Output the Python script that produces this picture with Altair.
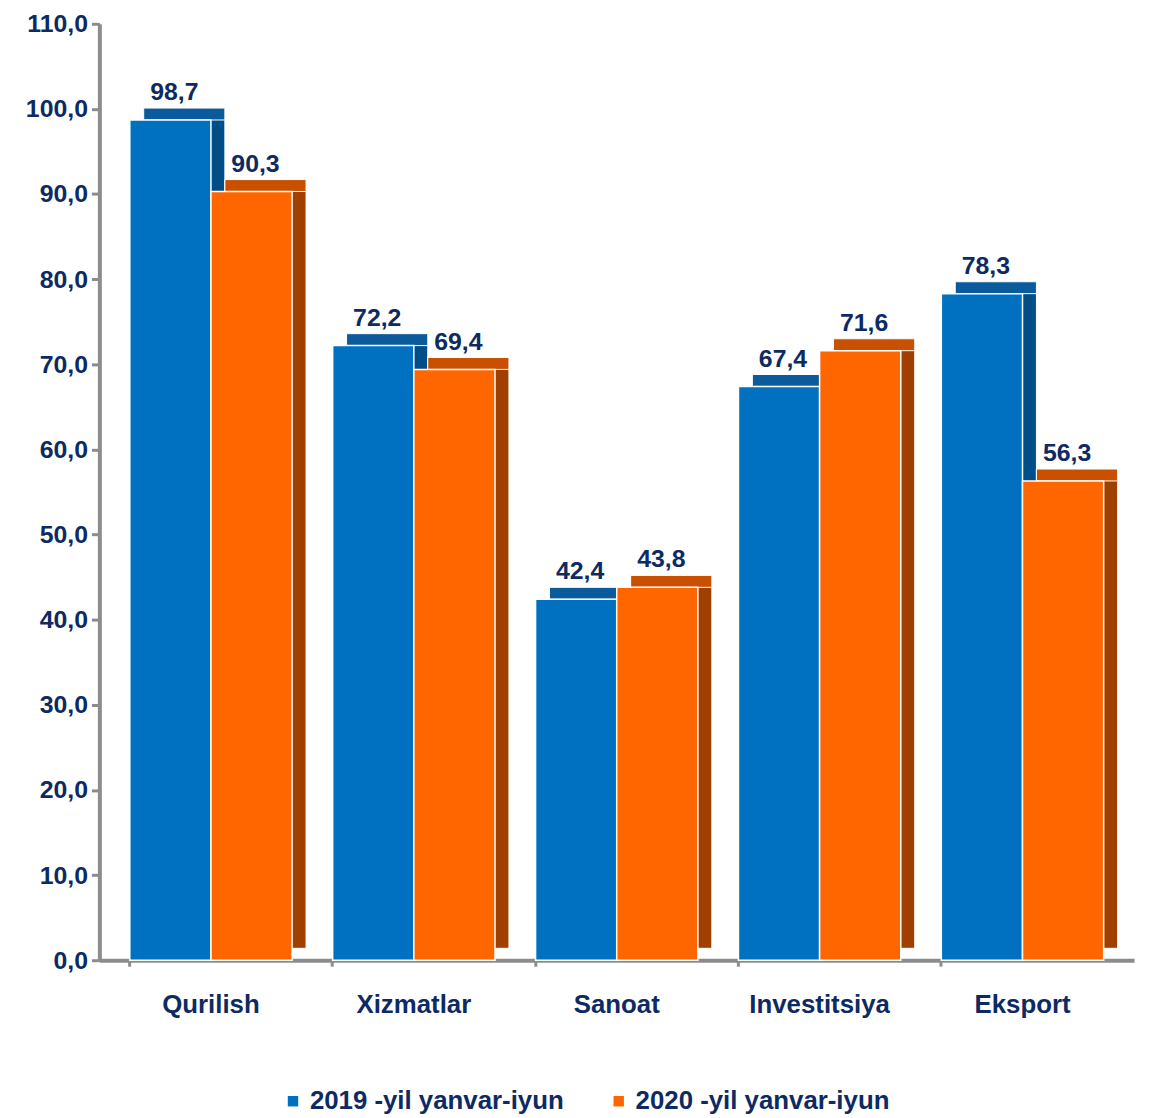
import altair as alt
import pandas as pd

categories = ["Qurilish", "Xizmatlar", "Sanoat", "Investitsiya", "Eksport"]
series = ["2019 -yil yanvar-iyun", "2020 -yil yanvar-iyun"]
v2019 = [98.7, 72.2, 42.4, 67.4, 78.3]
v2020 = [90.3, 69.4, 43.8, 71.6, 56.3]
front_colors = ["#0070C0", "#FF6600"]
side_colors = ["#004E88", "#A04000"]
top_colors = ["#0A5A9C", "#C85000"]

rows = []
for i, c in enumerate(categories):
    for s, vals, sc, tc in zip(series, [v2019, v2020], side_colors, top_colors):
        rows.append({"cat": c, "series": s, "value": vals[i], "side": sc, "top": tc})
df = pd.DataFrame(rows)

NAVY = "#0D2A63"
FONT = "Liberation Sans"
DX, DY = 14, 12

x_enc = alt.X("cat:N", sort=categories,
              scale=alt.Scale(paddingInner=0.2, paddingOuter=0.15),
              axis=alt.Axis(title=None, labelFont=FONT, labelFontSize=26,
                            labelFontWeight="bold", labelColor=NAVY,
                            labelAngle=0, labelPadding=26,
                            domainColor="#8C8C8C", domainWidth=4,
                            tickColor="#8C8C8C", tickWidth=3, tickSize=6,
                            bandPosition=0))
xo_front = alt.XOffset("series:N", sort=series)
# depth faces: same grouping, shifted right by the bar depth
xo_back = alt.XOffset("series:N", sort=series, scale=alt.Scale(range=[DX, 163.5 + DX]))
y_enc = alt.Y("value:Q", scale=alt.Scale(domain=[0, 110], nice=False),
              axis=alt.Axis(title=None, values=list(range(0, 111, 10)),
                            labelExpr="replace(format(datum.value, '.1f'), '.', ',')",
                            labelFont=FONT, labelFontSize=25,
                            labelFontWeight="bold", labelColor=NAVY,
                            labelPadding=4, grid=False,
                            domainColor="#8C8C8C", domainWidth=4,
                            tickColor="#8C8C8C", tickWidth=3, tickSize=8))

base = alt.Chart(df)

side = base.mark_bar(yOffset=-DY, y2Offset=-DY, stroke="white", strokeWidth=1).encode(
    x=x_enc, xOffset=xo_back, y=y_enc,
    color=alt.Color("side:N", scale=None, legend=None),
)
top = base.mark_bar(yOffset=-DY, y2Offset=0, stroke="white", strokeWidth=1).encode(
    x=x_enc, xOffset=xo_back, y=y_enc, y2="value:Q",
    color=alt.Color("top:N", scale=None, legend=None),
)
back = alt.layer(side, top)

front = base.mark_bar(stroke="white", strokeWidth=1.5).encode(
    x=x_enc, xOffset=xo_front, y=y_enc,
    color=alt.Color("series:N", sort=series,
                    scale=alt.Scale(domain=series, range=front_colors),
                    legend=alt.Legend(title=None, orient="none",
                                      direction="horizontal",
                                      legendX=182, legendY=1072,
                                      symbolType="square", symbolSize=110,
                                      symbolStrokeWidth=0,
                                      labelFont=FONT, labelFontSize=26,
                                      labelFontWeight="bold", labelColor=NAVY,
                                      labelLimit=400, columnPadding=42,
                                      symbolOffset=0)),
)

labels = base.transform_calculate(
    lbl="replace(format(datum.value, '.1f'), '.', ',')"
).mark_text(font=FONT, fontSize=25, fontWeight="bold", color=NAVY,
            dx=4, dy=-28).encode(
    x=x_enc, xOffset=xo_front, y=y_enc, text="lbl:N",
)

chart = alt.layer(back, front, labels).resolve_scale(
    xOffset="independent", color="independent"
).properties(
    width=1042, height=943,
    autosize=alt.AutoSizeParams(type="none"),
    padding={"left": 92, "top": 12, "right": 13, "bottom": 157},
    background="white",
).configure_view(stroke=None)

chart.save("out.html", embed_options={"renderer": "svg", "actions": False})
